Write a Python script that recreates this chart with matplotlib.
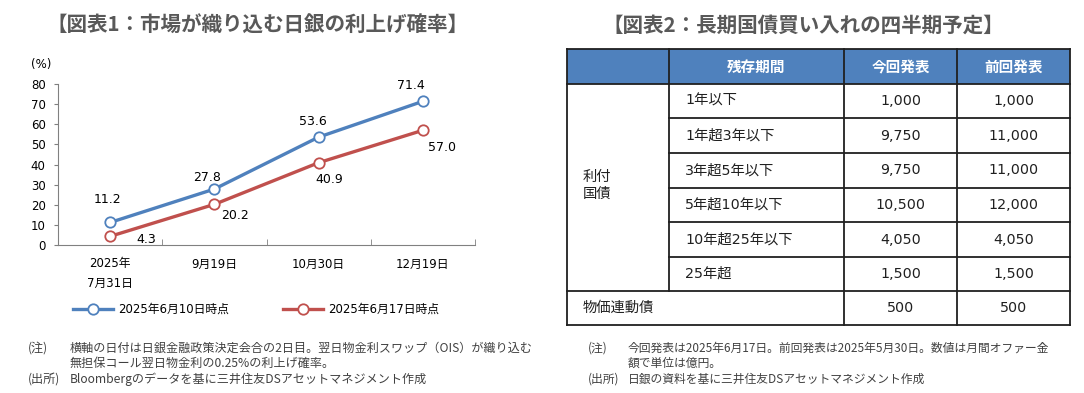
import numpy as np
import matplotlib.pyplot as plt
from matplotlib.patches import Rectangle

# DejaVu for latin/digits (wide, Verdana-like), Noto CJK for Japanese
plt.rcParams['font.family'] = ['DejaVu Sans', 'Noto Sans CJK JP']

# ---- chart 1 data
dates = ['2025年\n7月31日', '9月19日', '10月30日', '12月19日']
prob_0610 = [11.2, 27.8, 53.6, 71.4]
prob_0617 = [4.3, 20.2, 40.9, 57.0]
series_names = ['2025年6月10日時点', '2025年6月17日時点']

# ---- table data
tbl_header = ['', '残存期間', '今回発表', '前回発表']
maturities = ['1年以下', '1年超3年以下', '3年超5年以下', '5年超10年以下', '10年超25年以下', '25年超']
this_time = ['1,000', '9,750', '9,750', '10,500', '4,050', '1,500']
last_time = ['1,000', '11,000', '11,000', '12,000', '4,050', '1,500']
group_label = '利付\n国債'
linker = ['物価連動債', '500', '500']

W, H = 1084, 393
BLUE = '#4F81BD'
RED = '#C0504D'
GRAY = '#595959'
TXT = '#404040'
CJK = ['Noto Sans CJK JP', 'DejaVu Sans']

fig = plt.figure(figsize=(W / 100, H / 100), dpi=100)

# full-figure overlay in pixel coordinates for titles / notes / table
ov = fig.add_axes([0, 0, 1, 1])
ov.set_xlim(0, W)
ov.set_ylim(H, 0)
ov.axis('off')

ov.text(257, 25, '【図表1：市場が織り込む日銀の利上げ確率】', ha='center', va='center',
        fontsize=14.8, fontweight='bold', color=GRAY, family=CJK)
ov.text(803, 25, '【図表2：長期国債買い入れの四半期予定】', ha='center', va='center',
        fontsize=14.8, fontweight='bold', color=GRAY, family=CJK)

# ---- line chart
x0, x1, ytop, ybot = 58, 475, 84, 245
ax = fig.add_axes([x0 / W, (H - ybot) / H, (x1 - x0) / W, (ybot - ytop) / H])
ax.set_zorder(2)
ax.patch.set_alpha(0)
x = np.arange(len(dates))
ax.plot(x, prob_0610, color=BLUE, lw=2.4, marker='o', ms=7.5, mfc='white',
        mec=BLUE, mew=1.3, label=series_names[0], clip_on=False)
ax.plot(x, prob_0617, color=RED, lw=2.4, marker='o', ms=7.5, mfc='white',
        mec=RED, mew=1.3, label=series_names[1], clip_on=False)
ax.set_xlim(-0.5, 3.5)
ax.set_ylim(0, 80)
ax.set_yticks(range(0, 81, 10))
ax.set_xticks(x)
ax.set_xticklabels(dates, fontsize=8.5, linespacing=1.6)
ax.set_xticks([0.5, 1.5, 2.5, 3.5], minor=True)
ax.tick_params(axis='x', which='major', length=0, pad=9)
ax.tick_params(axis='x', which='minor', length=4, direction='in', color='#808080')
ax.tick_params(axis='y', labelsize=8.5, length=3, color='#808080', pad=6)
for s in ['top', 'right']:
    ax.spines[s].set_visible(False)
for s in ['left', 'bottom']:
    ax.spines[s].set_color('#808080')

# label offsets in pixels (dx, dy up)
off_blue = [(-3, 23), (-7, 12), (-6, 16), (-12, 16)]
off_red = [(36, -3), (21, -11), (11, -17), (19, -17)]
for xi, v, (dx, dy) in zip(x, prob_0610, off_blue):
    ax.annotate(f'{v:.1f}', (xi, v), xytext=(dx * 0.72, dy * 0.72), textcoords='offset points',
                ha='center', va='center', fontsize=9)
for xi, v, (dx, dy) in zip(x, prob_0617, off_red):
    ax.annotate(f'{v:.1f}', (xi, v), xytext=(dx * 0.72, dy * 0.72), textcoords='offset points',
                ha='center', va='center', fontsize=9)
ax.text(-0.015, 1.12, '(%)', transform=ax.transAxes, ha='right', va='center', fontsize=8.5)
ax.legend(loc='center', bbox_to_anchor=(0.475, -0.40), ncol=2, frameon=False,
          fontsize=8.5, handlelength=3.4, columnspacing=4.6, handletextpad=0.4)

# ---- table
cols = [567, 669, 844, 957, 1070]
rows = [49, 84, 118, 153, 188, 222, 257, 291, 325]
lc = '#202020'
tfs = 10.3
ov.add_patch(Rectangle((cols[0], rows[0]), cols[-1] - cols[0], rows[1] - rows[0],
                       facecolor=BLUE, edgecolor='none'))
for j, h in enumerate(tbl_header):
    if h:
        ov.text((cols[j] + cols[j + 1]) / 2, (rows[0] + rows[1]) / 2, h, ha='center',
                va='center', fontsize=10.5, fontweight='bold', color='white', family=CJK)
for i in range(len(maturities)):
    yc = (rows[i + 1] + rows[i + 2]) / 2
    ov.text(cols[1] + 16, yc, maturities[i], ha='left', va='center', fontsize=tfs, color='#202020')
    ov.text((cols[2] + cols[3]) / 2, yc, this_time[i], ha='center', va='center', fontsize=tfs, color='#202020')
    ov.text((cols[3] + cols[4]) / 2, yc, last_time[i], ha='center', va='center', fontsize=tfs, color='#202020')
ov.text(cols[0] + 16, (rows[1] + rows[7]) / 2 - 2, group_label, ha='left', va='center',
        fontsize=tfs, color='#202020', linespacing=1.2)
yc = (rows[7] + rows[8]) / 2
ov.text(cols[0] + 16, yc, linker[0], ha='left', va='center', fontsize=tfs, color='#202020')
ov.text((cols[2] + cols[3]) / 2, yc, linker[1], ha='center', va='center', fontsize=tfs, color='#202020')
ov.text((cols[3] + cols[4]) / 2, yc, linker[2], ha='center', va='center', fontsize=tfs, color='#202020')

# grid lines
lw = 1.3
ov.plot([cols[0], cols[-1]], [rows[0], rows[0]], color=lc, lw=lw)
ov.plot([cols[0], cols[-1]], [rows[1], rows[1]], color=lc, lw=lw)
for r in rows[2:7]:
    ov.plot([cols[1], cols[-1]], [r, r], color=lc, lw=lw)
ov.plot([cols[0], cols[-1]], [rows[7], rows[7]], color=lc, lw=lw)
ov.plot([cols[0], cols[-1]], [rows[8], rows[8]], color=lc, lw=lw)
ov.plot([cols[0], cols[0]], [rows[0], rows[8]], color=lc, lw=lw)
ov.plot([cols[-1], cols[-1]], [rows[0], rows[8]], color=lc, lw=lw)
ov.plot([cols[1], cols[1]], [rows[0], rows[7]], color=lc, lw=lw)
ov.plot([cols[2], cols[2]], [rows[0], rows[8]], color=lc, lw=lw)
ov.plot([cols[3], cols[3]], [rows[0], rows[8]], color=lc, lw=lw)

# ---- notes
notes_left = [
    (28, 348, '(注)'),
    (70, 348, '横軸の日付は日銀金融政策決定会合の2日目。翌日物金利スワップ（OIS）が織り込む'),
    (70, 363, '無担保コール翌日物金利の0.25%の利上げ確率。'),
    (28, 379, '(出所)'),
    (70, 379, 'Bloombergのデータを基に三井住友DSアセットマネジメント作成'),
]
notes_right = [
    (588, 348, '(注)'),
    (628, 348, '今回発表は2025年6月17日。前回発表は2025年5月30日。数値は月間オファー金'),
    (628, 363, '額で単位は億円。'),
    (588, 379, '(出所)'),
    (628, 379, '日銀の資料を基に三井住友DSアセットマネジメント作成'),
]
for nx, ny, s in notes_left:
    ov.text(nx, ny, s, ha='left', va='center', fontsize=8.7, color=TXT, family=CJK)
for nx, ny, s in notes_right:
    ov.text(nx, ny, s, ha='left', va='center', fontsize=8.5, color=TXT, family=CJK)

fig.savefig('out.png', dpi=100)
